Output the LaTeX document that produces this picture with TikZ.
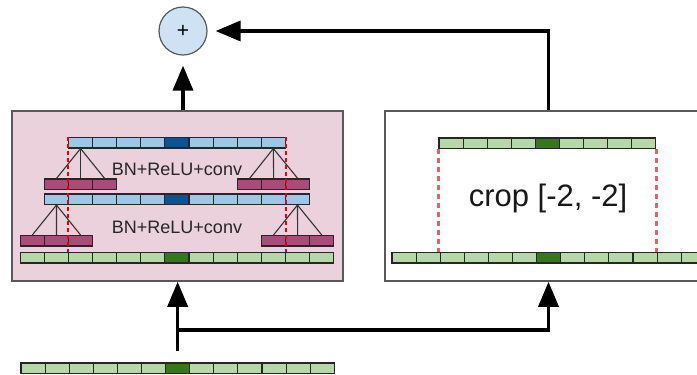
\documentclass[tikz,border=0pt]{standalone}
\usepackage {fontspec}
\setmainfont {Liberation Sans}
\usetikzlibrary {arrows.meta}
\definecolor {bluelight}{HTML}{9FC5E8}
\definecolor {bluedark}{HTML}{0B5394}
\definecolor {greenlight}{HTML}{B6D7A8}
\definecolor {greendark}{HTML}{38761D}
\definecolor {magentalight}{HTML}{A64D79}
\definecolor {pinkbox}{HTML}{EAD1DC}
\definecolor {plusfill}{HTML}{CFE2F3}
\definecolor {cropred}{HTML}{E06666}
\tikzstyle {arrow} = [line width=3.5pt, -{Triangle[length=25pt, width=20pt]}]
\tikzstyle {cell} = [draw=black!85, line width=1.1pt, inner sep=0pt, minimum width=24.1pt, minimum height=10.5pt]
\tikzstyle {block} = [draw=black!65, line width=1.5pt, inner sep=0pt]
\tikzstyle {fan} = [draw=black!80, line width=1.1pt]
\tikzstyle {cutline} = [red!90!black, line width=1.4pt, dash pattern=on 4pt off 3pt]
\tikzstyle {layertext} = [font=\fontsize{18}{20}\selectfont, text=black!85]
\newcommand {\cw}{24.1}
\newcommand {\ch}{10.5}
% one row of cells: name, left, top, number of cells, dark cell, colour
\newcommand {\cellrow}[6]{%
  \foreach \i in {1,...,#4} {
    \ifnum\i=#5 \def\cellcol{#6dark}\else\def\cellcol{#6light}\fi
    \node [cell, fill=\cellcol] (#1-\i) at ({#2+(\i-0.5)*\cw}, {#3+\ch/2}) {};
  }%
}
\begin{document}
\begin{tikzpicture}[x=1pt, y=-1pt]
      \useasboundingbox (0,0) rectangle (697,375);
      \clip (0,0) rectangle (697,375);
      % boxes and the sum
      \node [block, fill=pinkbox, minimum width=331pt, minimum height=170pt] (leftbox) at (177.5,196) {};
      \node [block, fill=white, minimum width=327pt, minimum height=170pt] (rightbox) at (548.5,196) {};
      \node [circle, draw=black!65, line width=1.2pt, fill=plusfill, minimum size=48pt, inner sep=0pt,
             font=\fontsize{21}{21}\selectfont] (plus) at (183,31) {+};
      % left branch
      \cellrow{ta}{68.5}{137.5}{9}{5}{blue}
      \cellrow{ma}{44.4}{179}{3}{0}{magenta}
      \cellrow{mb}{237.5}{179}{3}{0}{magenta}
      \cellrow{tb}{44.4}{194}{11}{6}{blue}
      \cellrow{mc}{20.3}{235.5}{3}{0}{magenta}
      \cellrow{md}{261.5}{235.5}{3}{0}{magenta}
      \cellrow{ga}{20.3}{252.5}{13}{7}{green}
      \foreach \j in {1,2,3} {
        \draw [fan] (ta-1.south) -- (ma-\j.north);
        \draw [fan] (ta-9.south) -- (mb-\j.north);
        \draw [fan] (tb-1.south) -- (mc-\j.north);
        \draw [fan] (tb-11.south) -- (md-\j.north);
      }
      \draw [cutline] (ta-1.north west) -- (ta-1.north west |- ga-2.north);
      \draw [cutline] (ta-9.north east) -- (ta-9.north east |- ga-11.north);
      \node [layertext] (conva) at (177,169) {BN+ReLU+conv};
      \node [layertext] (convb) at (177,227) {BN+ReLU+conv};
      % right branch
      \cellrow{cr}{439}{138}{9}{5}{green}
      \cellrow{gb}{392}{252.5}{13}{7}{green}
      \draw [cropred, line width=2.5pt, dash pattern=on 5pt off 4pt] (cr-1.south west) -- (cr-1.south west |- gb-3.north);
      \draw [cropred, line width=2.5pt, dash pattern=on 5pt off 4pt] (cr-9.south east) -- (cr-9.south east |- gb-11.north);
      \node [font=\fontsize{31}{34}\selectfont, text=black!90] (croptext) at (548,198) {crop [-2, -2]};
      % input and arrows
      \cellrow{in}{21}{363}{13}{7}{green}
      \coordinate (split) at (in-7.north |- 0,330);
      \draw [arrow, shorten <=11pt] (in-7.north) -- (in-7.north |- leftbox.south);
      \draw [arrow] (split) -| (rightbox.south);
      \draw [arrow, shorten >=10pt] (plus |- leftbox.north) -- (plus.south);
      \draw [arrow, shorten >=8pt] (rightbox.north) |- (plus.east);
    \end{tikzpicture}
\end{document}
